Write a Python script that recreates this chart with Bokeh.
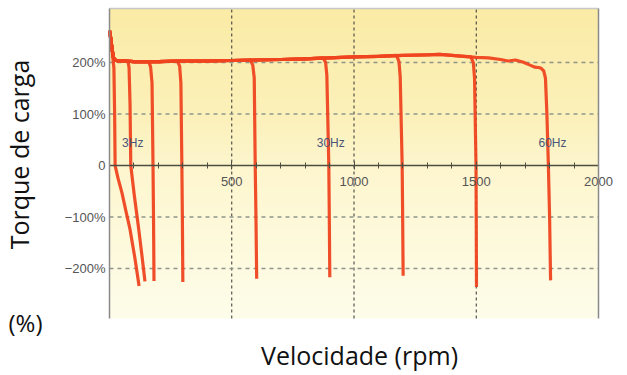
import math
import numpy as np
from bokeh.plotting import figure
from bokeh.models import Range1d, FixedTicker, LinearAxis, Label
from bokeh.core.properties import value
from bokeh.embed import file_html
from bokeh.resources import INLINE

# ---- data ----
plateau_rpm = [0, 4, 10, 16, 25, 40, 60, 100, 200, 300, 400, 500, 600, 700, 800, 900,
               1000, 1100, 1200, 1300, 1350, 1400, 1450, 1500, 1550, 1600, 1630, 1660,
               1690, 1700, 1720, 1740, 1760]
plateau_pct = [262, 250, 228, 210, 204, 203, 203, 202, 202, 203, 203, 204, 205, 206, 207, 209,
               211, 212, 214, 215, 216, 214, 212, 210, 209, 206, 203, 205,
               201, 199, 195, 191, 190]

drop_1hz_rpm = [14, 18, 21, 23, 35, 51, 67, 84, 104, 121]
drop_1hz_pct = [208, 190, 100, 0, -25, -53, -88, -124, -180, -234]
drop_3hz_rpm = [76, 80, 84, 87, 102, 118, 132, 145]
drop_3hz_pct = [202, 190, 120, 0, -60, -118, -172, -225]
drop_6hz_rpm = [160, 168, 174, 178, 180, 182]
drop_6hz_pct = [202, 192, 160, 0, -100, -224]
drop_10hz_rpm = [278, 287, 292, 296, 298, 300]
drop_10hz_pct = [203, 193, 160, 0, -100, -226]
drop_20hz_rpm = [576, 586, 592, 596, 599, 602]
drop_20hz_pct = [205, 195, 170, 0, -100, -220]
drop_30hz_rpm = [874, 884, 889, 897, 899, 901]
drop_30hz_pct = [209, 200, 175, 0, -100, -217]
drop_40hz_rpm = [1174, 1184, 1189, 1197, 1199, 1201]
drop_40hz_pct = [214, 202, 172, 0, -100, -214]
drop_50hz_rpm = [1478, 1488, 1493, 1499, 1500, 1501]
drop_50hz_pct = [211, 200, 170, 0, -100, -236]
drop_60hz_rpm = [1765, 1776, 1783, 1789, 1795, 1800, 1804]
drop_60hz_pct = [189, 184, 170, 100, 0, -100, -223]

freq_label_text = ["3Hz", "30Hz", "60Hz"]
freq_label_rpm = [95, 905, 1812]
freq_label_pct = [44, 44, 44]

x_major = [500, 1000, 1500, 2000]
x_minor = list(range(0, 2001, 100))
x_grid = [500, 1000, 1500]
y_ticks = [-200, -100, 0, 100, 200]
y_grid = [-200, -100, 100, 200]
y_tick_labels = {200: "200%", 100: "100%", 0: "0", -100: "\u2212100%", -200: "\u2212200%"}

# ---- plot area (data limits) and canvas layout ----
X0, X1 = 0, 2000
Y0, Y1 = -297, 305
W, H = 624, 372
LEFT_PX, TOP_PX = 109, 8          # plot-area corner on the canvas
AREA_W, AREA_H = 489, 310          # plot-area size in pixels
sx = AREA_W / (X1 - X0)
sy = AREA_H / (Y1 - Y0)
xr = Range1d(X0 - LEFT_PX / sx, X0 + (W - LEFT_PX) / sx)
yr = Range1d(Y1 - (H - TOP_PX) / sy, Y1 + TOP_PX / sy)

p = figure(width=W, height=H, x_range=xr, y_range=yr,
           output_backend="svg", toolbar_location=None,
           x_axis_location=None, y_axis_location=None, min_border=0)
p.outline_line_color = None
p.background_fill_color = "white"
p.border_fill_color = "white"
for g in p.grid:
    g.visible = False

# background gradient (yellow to pale)
n = 150
ys = np.linspace(Y0, Y1, n)
stops_y = [Y0, 0, 100, Y1]
stops_c = np.array([[254, 253, 234], [253, 246, 206], [252, 241, 186], [250, 235, 166]], dtype=float)
rgb = np.stack([np.interp(ys, stops_y, stops_c[:, k]) for k in range(3)], axis=1)
img = np.zeros((n, 1), dtype=np.uint32)
view = img.view(dtype=np.uint8).reshape((n, 1, 4))
view[:, 0, 0] = rgb[:, 0].astype(np.uint8)
view[:, 0, 1] = rgb[:, 1].astype(np.uint8)
view[:, 0, 2] = rgb[:, 2].astype(np.uint8)
view[:, 0, 3] = 255
bg = p.image_rgba(image=[img], x=X0, y=Y0, dw=X1 - X0, dh=Y1 - Y0)
bg.level = "image"

# grid lines limited to the plot area
p.segment(x0=x_grid, y0=[Y0] * len(x_grid), x1=x_grid, y1=[Y1] * len(x_grid),
          line_color="#333333", line_width=1, line_dash="3 3")
p.segment(x0=[X0] * len(y_grid), y0=y_grid, x1=[X1] * len(y_grid), y1=y_grid,
          line_color="#8f958a", line_width=1.5, line_dash="4 4")

# curves
red = "#EF4520"
drops = [(drop_1hz_rpm, drop_1hz_pct), (drop_3hz_rpm, drop_3hz_pct), (drop_6hz_rpm, drop_6hz_pct),
         (drop_10hz_rpm, drop_10hz_pct), (drop_20hz_rpm, drop_20hz_pct), (drop_30hz_rpm, drop_30hz_pct),
         (drop_40hz_rpm, drop_40hz_pct), (drop_50hz_rpm, drop_50hz_pct), (drop_60hz_rpm, drop_60hz_pct)]
for dr, dp in drops:
    xs = [r for r in plateau_rpm if r < dr[0]] + dr
    yv = [v for r, v in zip(plateau_rpm, plateau_pct) if r < dr[0]] + dp
    p.line(xs, yv, line_color=red, line_width=3.2, line_join="round", line_alpha=0.95)

p.text(x=freq_label_rpm, y=freq_label_pct, text=freq_label_text,
       text_font=value("Liberation Sans"), text_font_size="12px", text_color="#4a5578",
       text_align="center", text_baseline="middle")

# x axis drawn at y = 0
xa = LinearAxis(fixed_location=0, bounds=(X0, X1),
                ticker=FixedTicker(ticks=x_major, minor_ticks=x_minor))
xa.axis_line_color = "#4d4d40"
xa.axis_line_width = 1.5
xa.major_tick_line_color = "#4d4d40"
xa.major_tick_in = 4
xa.major_tick_out = 4
xa.minor_tick_line_color = "#4d4d40"
xa.minor_tick_in = 3
xa.minor_tick_out = 3
xa.major_label_text_font = "Liberation Sans"
xa.major_label_text_font_size = "13px"
xa.major_label_text_color = "#555555"
xa.major_label_standoff = 7
p.add_layout(xa, "below")

# y axis on the left edge of the plot area
ya = LinearAxis(fixed_location=X0, bounds=(Y0, Y1), ticker=FixedTicker(ticks=y_ticks))
ya.major_label_overrides = y_tick_labels
ya.axis_line_color = "#8a8a8a"
ya.axis_line_width = 1.5
ya.major_tick_line_color = None
ya.major_tick_out = 0
ya.major_tick_in = 0
ya.minor_tick_line_color = None
ya.major_label_text_font = "Liberation Sans"
ya.major_label_text_font_size = "13px"
ya.major_label_text_color = "#555555"
ya.major_label_standoff = 4
p.add_layout(ya, "left")

# right and top borders
right = LinearAxis(fixed_location=X1, bounds=(Y0, Y1), ticker=FixedTicker(ticks=[]),
                   axis_line_color="#8a8a8a", axis_line_width=1.5,
                   major_tick_line_color=None, minor_tick_line_color=None)
p.add_layout(right, "right")
top = LinearAxis(fixed_location=Y1, bounds=(X0, X1), ticker=FixedTicker(ticks=[]),
                 axis_line_color="#c8c8c8", axis_line_width=1.5,
                 major_tick_line_color=None, minor_tick_line_color=None)
p.add_layout(top, "above")

# axis titles (positions from the reference layout, in pixels converted to data)
def px_to_x(px):
    return X0 + (px - LEFT_PX) / sx

def px_to_y(py):
    return Y1 - (py - TOP_PX) / sy

p.add_layout(Label(x=px_to_x(18), y=px_to_y(154), text="Torque de carga", angle=math.pi / 2,
                   text_font="Open Sans", text_font_size="25px", text_color="#111111",
                   text_align="center", text_baseline="alphabetic"))
p.add_layout(Label(x=px_to_x(359), y=px_to_y(354), text="Velocidade (rpm)",
                   text_font="Open Sans", text_font_size="25px", text_color="#111111",
                   text_align="center", text_baseline="alphabetic"))
p.add_layout(Label(x=px_to_x(8), y=px_to_y(322), text="(%)",
                   text_font="Open Sans", text_font_size="24px", text_color="#111111",
                   text_align="left", text_baseline="alphabetic"))

open("out.html", "w").write(file_html(p, INLINE))
